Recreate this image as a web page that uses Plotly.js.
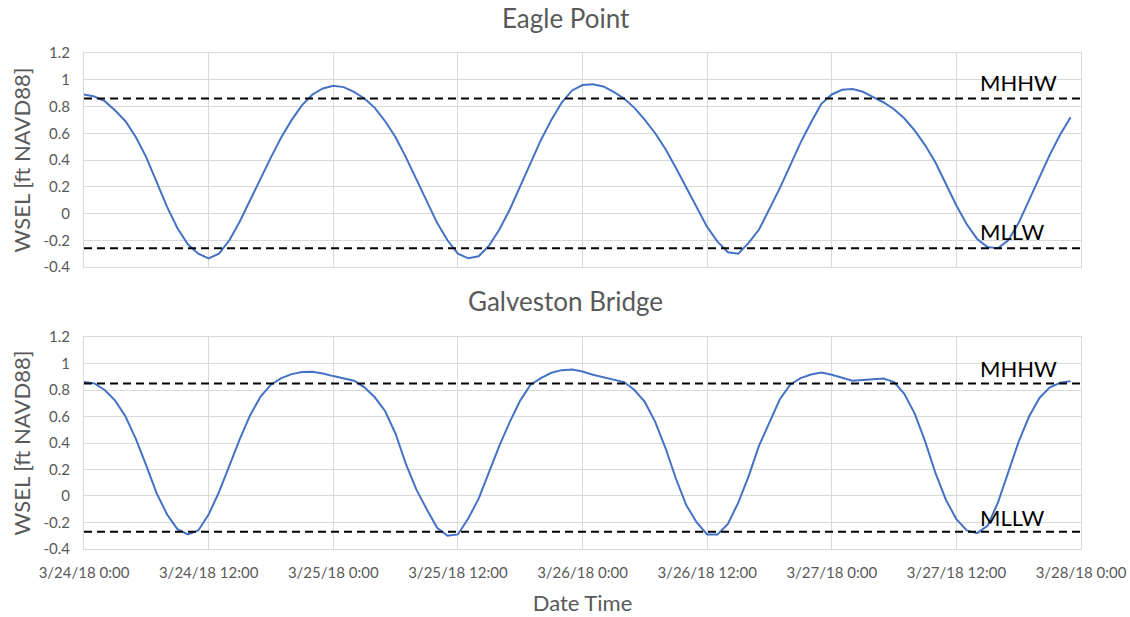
<!DOCTYPE html>
<html>
<head>
<meta charset="utf-8">
<script src="https://cdn.plot.ly/plotly-3.0.1.min.js"></script>
<style>html,body{margin:0;padding:0;background:#fff}#chart{width:1130px;height:617px}</style>
</head>
<body>
<div id="chart"></div>
<script>
// Hourly samples starting 3/24/18 0:00
const startTime = '2018-03-24T00:00:00';
const eaglePoint = [
  0.89, 0.875, 0.84, 0.77, 0.69, 0.57, 0.42, 0.23, 0.05, -0.11,
  -0.23, -0.30, -0.335, -0.30, -0.20, -0.06, 0.10, 0.27, 0.42, 0.57,
  0.70, 0.81, 0.89, 0.935, 0.955, 0.945, 0.91, 0.86, 0.79, 0.69,
  0.57, 0.42, 0.26, 0.10, -0.07, -0.20, -0.30, -0.335, -0.32, -0.24,
  -0.12, 0.03, 0.20, 0.38, 0.55, 0.70, 0.83, 0.92, 0.96, 0.967,
  0.95, 0.91, 0.86, 0.79, 0.70, 0.60, 0.48, 0.34, 0.19, 0.04,
  -0.10, -0.21, -0.29, -0.30, -0.22, -0.12, 0.03, 0.19, 0.36, 0.53,
  0.68, 0.82, 0.89, 0.925, 0.93, 0.91, 0.87, 0.83, 0.78, 0.71,
  0.62, 0.51, 0.38, 0.22, 0.06, -0.08, -0.19, -0.25, -0.26, -0.20,
  -0.07, 0.10, 0.27, 0.44, 0.59, 0.72
];
const galvestonBridge = [
  0.86, 0.85, 0.80, 0.72, 0.60, 0.43, 0.23, 0.02, -0.14, -0.25,
  -0.29, -0.26, -0.14, 0.03, 0.23, 0.43, 0.61, 0.75, 0.84, 0.89,
  0.92, 0.935, 0.937, 0.925, 0.905, 0.89, 0.87, 0.82, 0.745, 0.64,
  0.47, 0.24, 0.05, -0.10, -0.24, -0.30, -0.29, -0.17, -0.02, 0.18,
  0.38, 0.56, 0.72, 0.84, 0.89, 0.93, 0.95, 0.955, 0.94, 0.915,
  0.895, 0.88, 0.86, 0.80, 0.71, 0.56, 0.36, 0.13, -0.07, -0.20,
  -0.29, -0.29, -0.21, -0.05, 0.15, 0.38, 0.56, 0.73, 0.84, 0.89,
  0.917, 0.932, 0.915, 0.89, 0.87, 0.875, 0.88, 0.887, 0.86, 0.77,
  0.62, 0.41, 0.17, -0.03, -0.175, -0.26, -0.28, -0.225, -0.05, 0.18,
  0.41, 0.60, 0.74, 0.82, 0.855, 0.867
];
const eagleMHHW = 0.86, eagleMLLW = -0.26;
const galvMHHW = 0.85, galvMLLW = -0.27;
const xTickVals = ['2018-03-24 00:00','2018-03-24 12:00','2018-03-25 00:00','2018-03-25 12:00','2018-03-26 00:00','2018-03-26 12:00','2018-03-27 00:00','2018-03-27 12:00','2018-03-28 00:00'];
const xTickText = ['3/24/18 0:00','3/24/18 12:00','3/25/18 0:00','3/25/18 12:00','3/26/18 0:00','3/26/18 12:00','3/27/18 0:00','3/27/18 12:00','3/28/18 0:00'];
const yTickVals = [-0.4,-0.2,0,0.2,0.4,0.6,0.8,1,1.2];
const yTickText = ['-0.4','-0.2','0','0.2','0.4','0.6','0.8','1','1.2'];
const titles = ['Eagle Point','Galveston Bridge'];
const yTitle = 'WSEL [ft NAVD88]';
const xTitle = 'Date Time';
const datumLabels = ['MHHW','MLLW'];

const t0 = new Date(startTime + 'Z').getTime();
function times(n){ const out=[]; for(let i=0;i<n;i++){ out.push(new Date(t0 + i*3600000).toISOString().slice(0,19).replace('T',' ')); } return out; }
const xRange = [xTickVals[0], xTickVals[xTickVals.length-1]];

const blue = '#4472C4';
const dashLine = {color:'#000', width:2, dash:'8px,5px'};
const traces = [
  {x:times(eaglePoint.length), y:eaglePoint, type:'scatter', mode:'lines', line:{color:blue,width:2}, xaxis:'x', yaxis:'y'},
  {x:xRange, y:[eagleMHHW,eagleMHHW], mode:'lines', line:dashLine, xaxis:'x', yaxis:'y'},
  {x:xRange, y:[eagleMLLW,eagleMLLW], mode:'lines', line:dashLine, xaxis:'x', yaxis:'y'},
  {x:times(galvestonBridge.length), y:galvestonBridge, type:'scatter', mode:'lines', line:{color:blue,width:2}, xaxis:'x2', yaxis:'y2'},
  {x:xRange, y:[galvMHHW,galvMHHW], mode:'lines', line:dashLine, xaxis:'x2', yaxis:'y2'},
  {x:xRange, y:[galvMLLW,galvMLLW], mode:'lines', line:dashLine, xaxis:'x2', yaxis:'y2'}
];

const gridc = '#d9d9d9';
const font = 'Lato, "Open Sans", sans-serif';
const gray = '#595959';
function xax(anchor, labels){
  return {type:'date', range:xRange, anchor:anchor, tickmode:'array', tickvals:xTickVals, ticktext:xTickText,
    showticklabels:labels, showgrid:true, gridcolor:gridc, gridwidth:1, showline:true, linecolor:gridc, linewidth:1, mirror:true,
    zeroline:false, ticks:labels?'outside':'', ticklen:10, tickcolor:'rgba(0,0,0,0)', tickfont:{family:font,size:15,color:gray},
    title: labels ? {text:xTitle, font:{family:font,size:22,color:gray}, standoff:15} : {text:''}};
}
function yax(anchor, domain){
  return {range:[-0.4,1.2], domain:domain, anchor:anchor, tickmode:'array', tickvals:yTickVals, ticktext:yTickText,
    showgrid:true, gridcolor:gridc, gridwidth:1, showline:true, linecolor:gridc, linewidth:1, mirror:true, zeroline:false,
    ticks:'outside', ticklen:10, tickcolor:'rgba(0,0,0,0)', tickfont:{family:font,size:15,color:gray},
    title:{text:yTitle, font:{family:font,size:22,color:gray}, standoff:6}};
}
const layout = {
  width:1130, height:617, showlegend:false, paper_bgcolor:'#fff', plot_bgcolor:'#fff',
  margin:{l:84, r:49, t:53, b:68},
  font:{family:font, color:gray},
  xaxis: xax('y', false),
  yaxis: yax('x', [0.5685,1]),
  xaxis2: xax('y2', true),
  yaxis2: yax('x2', [0,0.4274]),
  annotations:[
    {text:titles[0], xref:'paper', yref:'paper', x:0.483, y:1, xanchor:'center', yanchor:'middle', yshift:35, showarrow:false, font:{family:font,size:26,color:gray}},
    {text:titles[1], xref:'paper', yref:'paper', x:0.483, y:0.4274, xanchor:'center', yanchor:'middle', yshift:36, showarrow:false, font:{family:font,size:26,color:gray}},
    {text:datumLabels[0], xref:'paper', yref:'y', x:0.937, y:0.98, xanchor:'center', yanchor:'middle', showarrow:false, font:{family:font,size:22,color:'#000'}},
    {text:datumLabels[1], xref:'paper', yref:'y', x:0.931, y:-0.135, xanchor:'center', yanchor:'middle', showarrow:false, font:{family:font,size:22,color:'#000'}},
    {text:datumLabels[0], xref:'paper', yref:'y2', x:0.937, y:0.96, xanchor:'center', yanchor:'middle', showarrow:false, font:{family:font,size:22,color:'#000'}},
    {text:datumLabels[1], xref:'paper', yref:'y2', x:0.931, y:-0.16, xanchor:'center', yanchor:'middle', showarrow:false, font:{family:font,size:22,color:'#000'}}
  ]
};
Plotly.newPlot('chart', traces, layout, {displayModeBar:false, staticPlot:true});
</script>
</body>
</html>
